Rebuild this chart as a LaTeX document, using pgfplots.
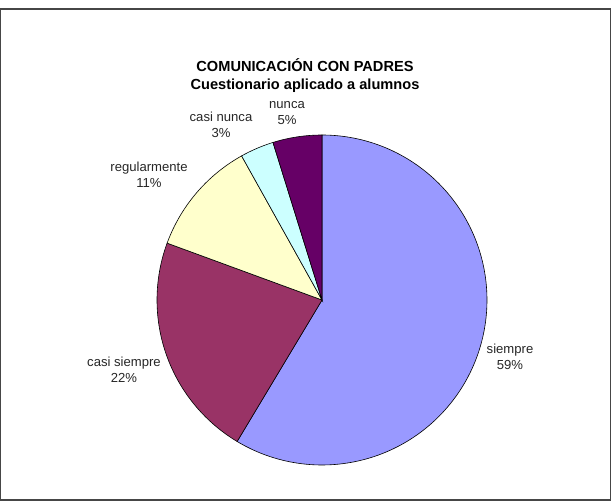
\documentclass[border=0pt]{standalone}
\usepackage{pgfplots}
\pgfplotsset{compat=1.18}
\usepackage{fontspec}
\setmainfont{Liberation Sans}
\definecolor{cSiempre}{HTML}{9999FF}
\definecolor{cCasiSiempre}{HTML}{993366}
\definecolor{cRegular}{HTML}{FFFFCC}
\definecolor{cCasiNunca}{HTML}{CCFFFF}
\definecolor{cNunca}{HTML}{660066}
\begin{document}
\begin{tikzpicture}
% data (percent)
\pgfmathsetmacro{\pA}{58.6}% siempre
\pgfmathsetmacro{\pB}{22.0}% casi siempre
\pgfmathsetmacro{\pC}{11.3}% regularmente
\pgfmathsetmacro{\pD}{3.3}% casi nunca
\pgfmathsetmacro{\pE}{4.8}% nunca
\pgfmathsetmacro{\aA}{90}
\pgfmathsetmacro{\aB}{\aA-3.6*\pA}
\pgfmathsetmacro{\aC}{\aB-3.6*\pB}
\pgfmathsetmacro{\aD}{\aC-3.6*\pC}
\pgfmathsetmacro{\aE}{\aD-3.6*\pD}
\pgfmathsetmacro{\aF}{\aE-3.6*\pE}
\def\R{165}
\begin{axis}[width=612bp, height=502bp, scale only axis,
  xmin=-322, xmax=290, ymin=-202, ymax=300, hide axis, clip=false]
\path (axis cs:-322,-202) rectangle (axis cs:290,300);
\draw[gray!55!black, line width=1.2bp] (axis cs:-321.4,291) rectangle (axis cs:288.5,-200);
\addplot[fill=cSiempre, draw=black, line width=0.6bp, domain=\aB:\aA, samples=150, variable=\t] ({\R*cos(\t)},{\R*sin(\t)}) -- (axis cs:0,0) -- cycle;
\addplot[fill=cCasiSiempre, draw=black, line width=0.6bp, domain=\aC:\aB, samples=80, variable=\t] ({\R*cos(\t)},{\R*sin(\t)}) -- (axis cs:0,0) -- cycle;
\addplot[fill=cRegular, draw=black, line width=0.6bp, domain=\aD:\aC, samples=50, variable=\t] ({\R*cos(\t)},{\R*sin(\t)}) -- (axis cs:0,0) -- cycle;
\addplot[fill=cCasiNunca, draw=black, line width=0.6bp, domain=\aE:\aD, samples=20, variable=\t] ({\R*cos(\t)},{\R*sin(\t)}) -- (axis cs:0,0) -- cycle;
\addplot[fill=cNunca, draw=black, line width=0.6bp, domain=\aF:\aE, samples=20, variable=\t] ({\R*cos(\t)},{\R*sin(\t)}) -- (axis cs:0,0) -- cycle;
\node[align=center, font=\fontsize{14.6bp}{18bp}\selectfont\bfseries] at (axis cs:-17,224) {COMUNICACIÓN CON PADRES\\Cuestionario aplicado a alumnos};
\begin{scope}[every node/.style={align=center, font=\fontsize{13.1bp}{16.5bp}\selectfont, text=black!85}]
\node at (axis cs:188,-57) {siempre\\59\%};
\node at (axis cs:-198,-70) {casi siempre\\22\%};
\node at (axis cs:-173,125) {regularmente\\11\%};
\node at (axis cs:-101,175) {casi nunca\\3\%};
\node at (axis cs:-35,187) {nunca\\5\%};
\end{scope}
\end{axis}
\end{tikzpicture}
\end{document}
